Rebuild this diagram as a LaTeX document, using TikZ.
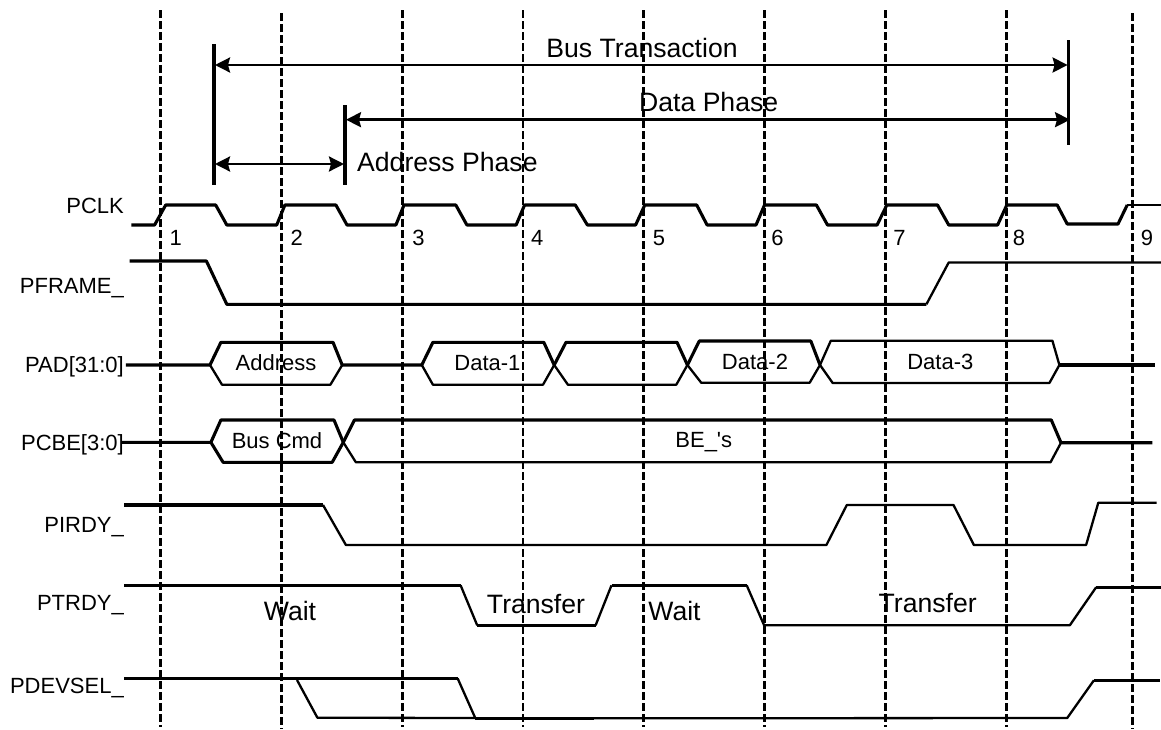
\documentclass[tikz,border=0pt]{standalone}
\usepackage{fontspec}
\usepackage{tikz}
\usetikzlibrary{arrows.meta}
\newfontfamily\diagfont{Liberation Sans}

\begin{document}
\begin{tikzpicture}[
        x=1pt, y=-1pt,
        sig/.style={line width=3.1pt, line join=round},
        sigthin/.style={line width=2.3pt, line join=round},
        grid/.style={line width=3pt, dash pattern=on 8pt off 3pt},
        gridthin/.style={line width=2.5pt, dash pattern=on 8pt off 3pt},
        bar/.style={line width=3.2pt},
        span/.style={line width=2.6pt, {Stealth[length=15pt, width=15pt, inset=2pt]}-{Stealth[length=15pt, width=15pt, inset=2pt]}, shorten <=1pt, shorten >=1pt},
        lab/.style={font=\diagfont\fontsize{22}{24}\selectfont, anchor=base east, inner sep=0pt},
        txt/.style={font=\diagfont\fontsize{22}{24}\selectfont, anchor=base, inner sep=0pt},
        big/.style={font=\diagfont\fontsize{26.6}{28}\selectfont, anchor=base, inner sep=0pt},
        bigleft/.style={big, anchor=base west}
    ]
        \useasboundingbox (0,0) rectangle (1161,729);

        \draw[grid] (160.5,10) -- (160.5,727);
        \draw[grid] (281.5,13) -- (281.5,729);
        \draw[grid] (402.5,10) -- (402.5,727);
        \draw[gridthin] (523,10) -- (523,727);
        \draw[gridthin] (643.4,10) -- (643.4,727);
        \draw[grid] (764.5,10) -- (764.5,727);
        \draw[grid] (885.3,10) -- (885.3,727);
        \draw[grid] (1006.5,10) -- (1006.5,727);
        \draw[grid] (1132.4,13) -- (1132.4,729);

        \coordinate (busl) at (214,65);
        \coordinate (busr) at (1068.6,65);
        \coordinate (datal) at (345,119.7);
        \coordinate (datar) at (1071,119.7);
        \coordinate (addrl) at (214,164);
        \coordinate (addrr) at (345,164);
        \draw[bar] (214,44) -- (214,184.7);
        \draw[bar] (345,105) -- (345,184.7);
        \draw[sigthin] (1068.6,40) -- (1068.6,144.7);
        \draw[span] (busl) -- (busr);
        \draw[span] (datal) -- (datar);
        \draw[span] (addrl) -- (addrr);
        \node[big] (bustrans) at (642,57) {Bus Transaction};
        \node[bigleft] (dataphase) at (639,111.7) {Data Phase};
        \node[bigleft] (addrphase) at (357,171.7) {Address Phase};

        \node[lab] (pclk) at (124,213.3) {PCLK};
        \node[lab] (pframe) at (124,293.3) {PFRAME\_};
        \node[lab] (pad) at (124,372.7) {PAD[31:0]};
        \node[lab] (pcbe) at (124,450.7) {PCBE[3:0]};
        \node[lab] (pirdy) at (124,532.3) {PIRDY\_};
        \node[lab] (ptrdy) at (124,610.7) {PTRDY\_};
        \node[lab] (pdevsel) at (124,693.3) {PDEVSEL\_};

        \node[txt] (n1) at (175.7,245.7) {1};
        \node[txt] (n2) at (296.7,245.7) {2};
        \node[txt] (n3) at (418.4,245.7) {3};
        \node[txt] (n4) at (537.2,245.7) {4};
        \node[txt] (n5) at (658.9,245.7) {5};
        \node[txt] (n6) at (777.5,245.7) {6};
        \node[txt] (n7) at (899.4,245.7) {7};
        \node[txt] (n8) at (1019,245.7) {8};
        \node[txt] (n9) at (1146.9,245.7) {9};

        \draw[sig] (131.3,225) -- (154.6,225) -- (165.7,205) -- (215.7,205) -- (226.8,225)
            -- (276.7,225) -- (284.9,205) -- (335.9,205) -- (347,225)
            -- (395.9,225) -- (404,205) -- (455.8,205) -- (466.9,225)
            -- (516.1,225) -- (524.6,205) -- (575.3,205) -- (587.4,225)
            -- (635.6,225) -- (644.8,205) -- (696.7,205) -- (707.1,225)
            -- (756,225) -- (764.5,205) -- (816.4,205) -- (827.5,225)
            -- (877.1,225) -- (886.8,205) -- (937.5,205) -- (948.7,225)
            -- (997.6,225) -- (1006.8,205) -- (1057.2,205) -- (1067.2,224)
            -- (1118,224) -- (1127.2,205);
        \draw[sigthin] (1127.2,205) -- (1161,205);

        \draw[sig] (129.5,261) -- (206.4,261) -- (226.8,304.3) -- (926.4,304.3);
        \draw[sigthin] (926.4,304.3) -- (948.7,262.5) -- (1161,262.5);

        \draw[sig] (125.8,365) -- (210,365) -- (220.9,342.3) -- (333,342.3) -- (342.2,365) -- (421.8,365);
        \draw[sigthin] (210,365) -- (222,384.7) -- (330.4,384.7) -- (342.2,365);
        \draw[sig] (421.8,365) -- (432.9,342.3) -- (543.8,342.3) -- (554.2,365);
        \draw[sigthin] (421.8,365) -- (432.9,384.7) -- (543,384.7) -- (554.2,365);
        \draw[sig] (554.2,365) -- (566,342.3) -- (677,342.3) -- (687.4,365);
        \draw[sigthin] (554.2,365) -- (567.9,384.7) -- (676.3,384.7) -- (687.4,365);
        \draw[sig] (687.4,365) -- (699.3,341) -- (810.8,341) -- (820,365);
        \draw[sigthin] (687.4,365) -- (701.2,382.7) -- (809.7,382.7) -- (820,365);
        \draw[sigthin] (820,365) -- (830.8,340.7) -- (1052.4,340.7) -- (1059.4,365);
        \draw[sigthin] (820,365) -- (832.7,383) -- (1049.4,383) -- (1059.4,365);
        \draw[sig] (1059.4,365) -- (1155,365);
        \node[txt] (addr) at (276,370.7) {Address};
        \node[txt] (data1) at (487.4,370.7) {Data-1};
        \node[txt] (data2) at (755,369) {Data-2};
        \node[txt] (data3) at (940.3,369) {Data-3};

        \draw[sig] (122,442.3) -- (210.9,442.3) -- (220.9,420) -- (334,420) -- (343.3,442.3);
        \draw[sig] (210.9,442.3) -- (223.1,462.3) -- (332.2,462.3) -- (343.3,442.3);
        \draw[sig] (343.3,442.3) -- (354.4,420) -- (1051.3,420) -- (1061,442.7) -- (1152.4,442.7);
        \draw[sigthin] (343.3,442.3) -- (355.9,462.3) -- (1050.5,462.3) -- (1061,442.7);
        \node[txt] (buscmd) at (277,448.3) {Bus Cmd};
        \node[txt] (bes) at (703.8,447.7) {BE\_'s};

        \draw[sig] (124,505) -- (323,505);
        \draw[sigthin] (323,505) -- (345.9,545) -- (826.4,545) -- (846.8,505) -- (953.5,505)
            -- (973.9,545) -- (1086.1,545) -- (1098.3,502.7) -- (1156.5,502.7);

        \draw[sig] (124,585.3) -- (460.6,585.3);
        \draw[sigthin] (460.6,585.3) -- (477.2,625.3);
        \draw[sig] (477.2,625.3) -- (595.6,625.3);
        \draw[sigthin] (595.6,625.3) -- (611.5,585.3);
        \draw[sig] (611.5,585.3) -- (746.7,585.3);
        \draw[sigthin] (746.7,585.3) -- (764.1,625.3) -- (1069.8,625.3) -- (1096.1,587.3);
        \draw[sig] (1096.1,587.3) -- (1161,587.3);
        \node[big] (wait1) at (290,620) {Wait};
        \node[big] (transfer1) at (536,613.3) {Transfer};
        \node[big] (wait2) at (674.5,620) {Wait};
        \node[big] (transfer2) at (927.7,612.7) {Transfer};

        \draw[sig] (124,678.3) -- (457.6,678.3);
        \draw[sigthin] (457.6,678.3) -- (475.4,718.3);
        \draw[sig] (475.4,718.3) -- (594,718.3);
        \draw[sigthin] (594,718.3) -- (1067.2,718) -- (1093.9,680.3);
        \draw[sig] (1093.9,680.3) -- (1159.9,680.3);
        \draw[sigthin] (297,680) -- (317.4,717.7) -- (475.4,718);
    \end{tikzpicture}
\end{document}
